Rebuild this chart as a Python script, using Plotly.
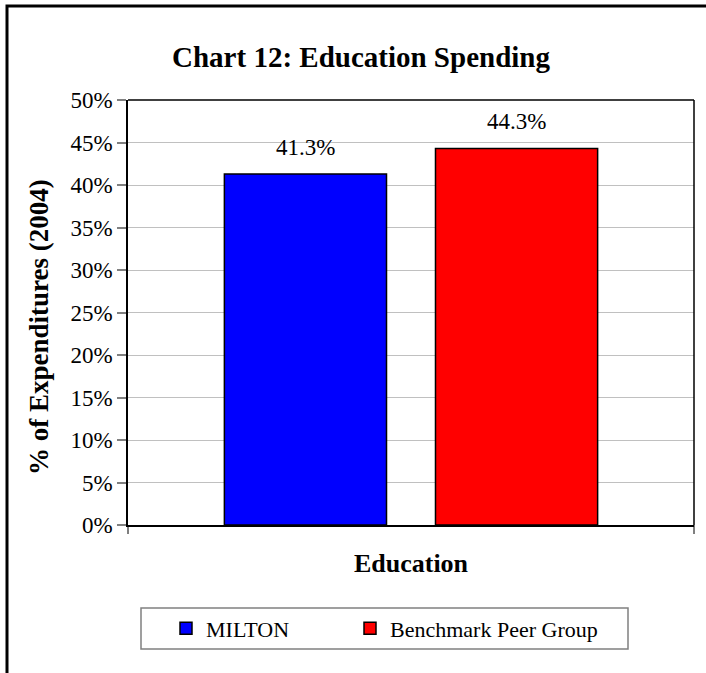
import plotly.graph_objects as go

# Education spending share of expenditures, 2004
category = ["Education"]
series_names = ["MILTON", "Benchmark Peer Group"]
series_values = [[41.3], [44.3]]
series_colors = ["#0000ff", "#ff0000"]
y_tick_values = [0, 5, 10, 15, 20, 25, 30, 35, 40, 45, 50]
y_tick_labels = [f"{v}%" for v in y_tick_values]

W, H = 706, 673
L, R, T, B = 128, 12, 100, 148
PW, PH = W - L - R, H - T - B
SERIF = "Liberation Serif, Times New Roman, serif"


def px_x(x):
    """pixel column -> paper x"""
    return (x - L) / PW


def px_y(y):
    """pixel row -> paper y"""
    return (H - B - y) / PH


legend_ids = ["legend", "legend2"]
legend_left = [166, 350]

fig = go.Figure()
for name, vals, color, lg in zip(series_names, series_values, series_colors, legend_ids):
    fig.add_trace(go.Bar(
        x=category, y=vals, name=name, legend=lg,
        marker=dict(color=color, line=dict(color="black", width=1.5)),
    ))

# value labels above each bar
bar_offsets = [-0.5, 0.5]
annotations = []
for vals, off in zip(series_values, bar_offsets):
    for v in vals:
        annotations.append(dict(
            x=off * 0.373, xref="x", y=v, yref="y",
            text=f"{v:.1f}%", showarrow=False, yanchor="bottom",
            yshift=12, font=dict(family=SERIF, size=23, color="black"),
        ))

annotations.append(dict(
    text="<b>% of Expenditures (2004)</b>", textangle=-90,
    xref="paper", yref="paper", x=px_x(39), y=px_y(327),
    xanchor="center", yanchor="middle", showarrow=False,
    font=dict(family=SERIF, size=27, color="black")))


def legend_style(left):
    return dict(orientation="h", x=px_x(left), xanchor="left",
                y=px_y(628.5), yanchor="middle",
                bgcolor="rgba(0,0,0,0)", borderwidth=0,
                font=dict(family=SERIF, size=22, color="black"))


fig.update_layout(
    width=W, height=H,
    margin=dict(l=L, r=R, t=T, b=B, pad=0),
    paper_bgcolor="white", plot_bgcolor="white",
    barmode="group", bargap=0.254, bargroupgap=0.232,
    title=dict(text="<b>Chart 12: Education Spending</b>",
               x=361 / W, xanchor="center", y=1 - 57 / H, yanchor="middle",
               font=dict(family=SERIF, size=29, color="black")),
    font=dict(family=SERIF, color="black"),
    showlegend=True,
    legend=legend_style(legend_left[0]),
    legend2=legend_style(legend_left[1]),
    xaxis=dict(type="category", showticklabels=False, ticks="",
               showgrid=False, zeroline=False,
               showline=True, linecolor="black", linewidth=2, mirror=False,
               title=dict(text="<b>Education</b>", standoff=28,
                          font=dict(family=SERIF, size=26, color="black"))),
    yaxis=dict(range=[0, 50], tickvals=y_tick_values, ticktext=y_tick_labels,
               ticks="outside", ticklen=9, tickcolor="#808080", tickwidth=1.5,
               tickfont=dict(family=SERIF, size=23, color="black"),
               showgrid=True, gridcolor="#c0c0c0", gridwidth=1,
               zeroline=False, showline=True, linecolor="black", linewidth=1.5,
               mirror=False),
    annotations=annotations,
)

# plot-area frame (top and right) and category boundary ticks
fig.add_shape(type="line", xref="paper", yref="paper", x0=0, x1=1, y0=1, y1=1,
              line=dict(color="black", width=1.5))
fig.add_shape(type="line", xref="paper", yref="paper", x0=1, x1=1, y0=0, y1=1,
              line=dict(color="black", width=1.5))
for xp in (0, 1):
    fig.add_shape(type="line", xref="paper", yref="paper", x0=xp, x1=xp,
                  y0=0, y1=-9 / PH, line=dict(color="black", width=1))

# legend box
fig.add_shape(type="rect", xref="paper", yref="paper",
              x0=px_x(141), x1=px_x(628), y0=px_y(649), y1=px_y(608),
              line=dict(color="#808080", width=1.5), fillcolor="white",
              layer="below")

# outer chart frame
fig.add_shape(type="rect", xref="paper", yref="paper",
              x0=px_x(7), x1=px_x(720), y0=px_y(690), y1=px_y(6),
              line=dict(color="black", width=3), layer="above")

fig.write_html("out.html")
